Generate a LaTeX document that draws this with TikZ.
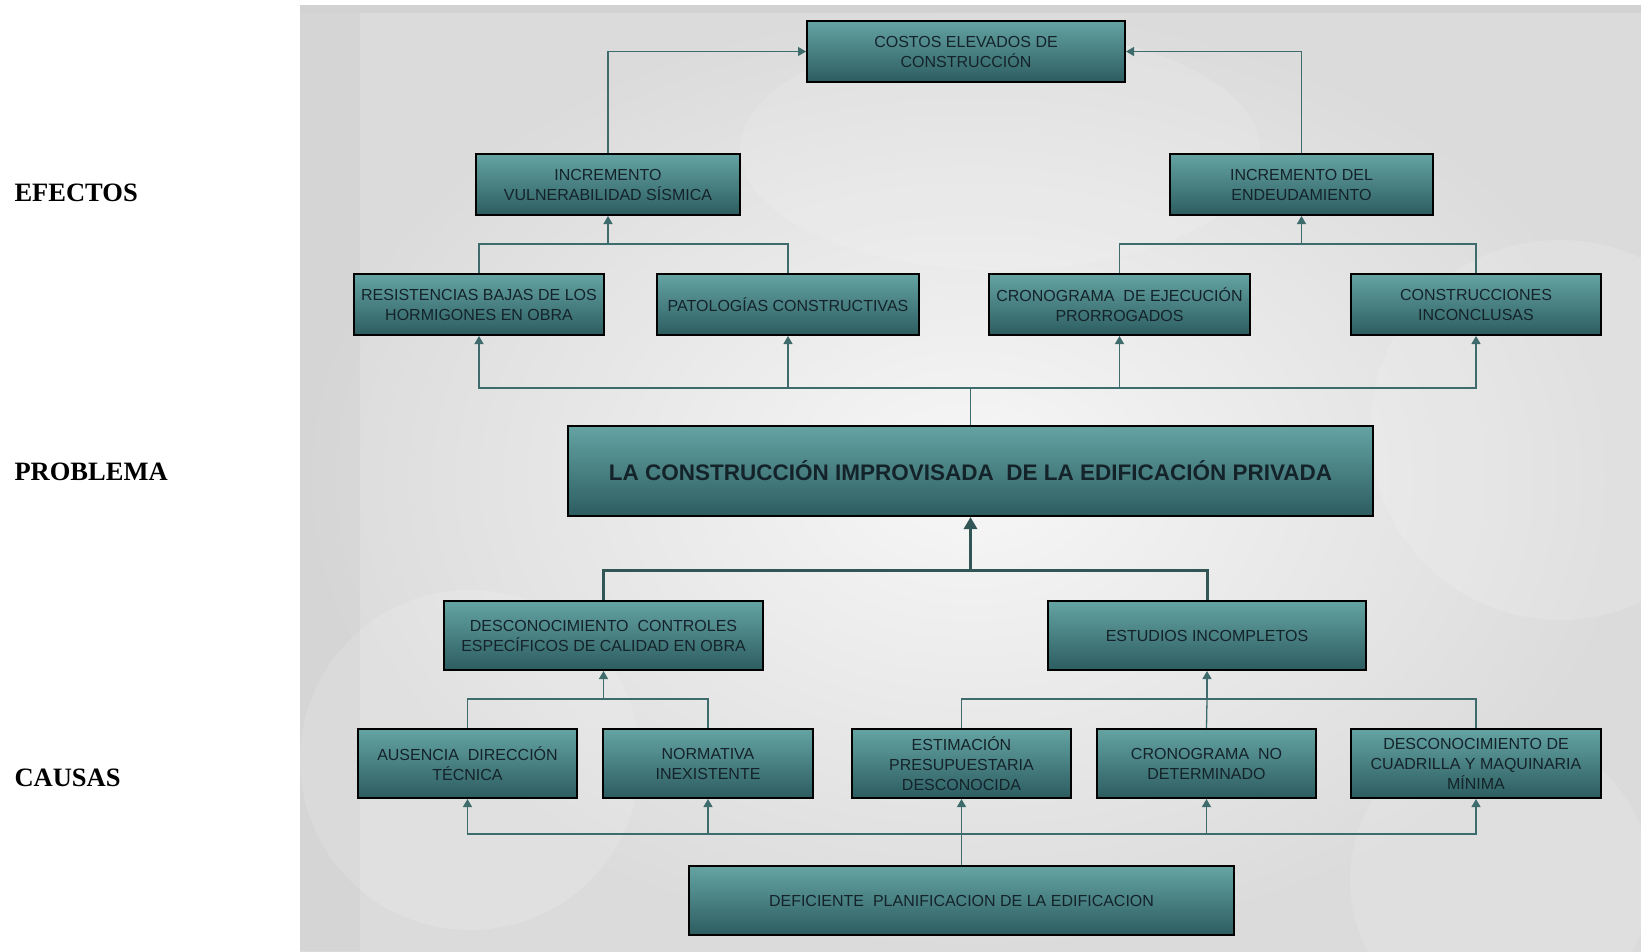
\documentclass[tikz,border=0pt]{standalone}
\usepackage{fontspec}
\setmainfont{Liberation Sans}
\newfontfamily\labelfont{Liberation Serif}
\usetikzlibrary{arrows.meta}

\definecolor{boxtop}{HTML}{65A3A3}
\definecolor{boxbot}{HTML}{2C5D60}
\definecolor{boxtext}{HTML}{14232A}
\definecolor{linkcol}{HTML}{3E6B6B}
\definecolor{panelout}{HTML}{DBDBDB}
\definecolor{panelin}{HTML}{F7F7F7}

\tikzset{
  box/.style={draw=black, line width=2pt, rectangle, inner sep=2pt,
    top color=boxtop, bottom color=boxbot, text=boxtext, align=center,
    minimum height=61pt,
    font=\fontsize{16}{20}\selectfont},
  mainbox/.style={box, minimum height=90pt,
    font=\bfseries\fontsize{22.5}{27}\selectfont},
  link/.style={draw=linkcol, line width=1.3pt},
  thicklink/.style={draw=linkcol!80!black, line width=3pt},
  tip/.style={-{Triangle[width=9pt,length=8pt]}},
  bigtip/.style={-{Triangle[width=13pt,length=12pt]}},
  rowlabel/.style={anchor=west, font=\labelfont\bfseries\fontsize{26.5}{30}\selectfont}
}

\begin{document}
\begin{tikzpicture}[x=1pt, y=-1pt]
  \useasboundingbox (0,0) rectangle (1641,951);

  % backdrop panel
  \shade[inner color=panelin, outer color=panelout] (300,5) rectangle (1641,951);
  \fill[black, opacity=0.04] (300,5) rectangle (1641,13);
  \begin{scope}
    \clip (300,5) rectangle (1641,951);
    \fill[white, opacity=0.14] (470,760) circle (170);
    \fill[white, opacity=0.14] (1560,430) circle (190);
    \fill[white, opacity=0.12] (1000,150) ellipse (260 and 120);
    \fill[white, opacity=0.12] (1500,880) circle (150);
    \fill[black, opacity=0.025] (300,13) rectangle (360,951);
  \end{scope}

  % row labels
  \node[rowlabel] (lefe) at (11,193) {EFECTOS};
  \node[rowlabel] (lpro) at (11,472) {PROBLEMA};
  \node[rowlabel] (lcau) at (11,778) {CAUSAS};

  % effects
  \node[box, minimum width=318pt] (costos) at (966,51.5) {COSTOS ELEVADOS DE\\CONSTRUCCIÓN};
  \node[box, minimum width=264pt] (vuln) at (608,184.5) {INCREMENTO\\VULNERABILIDAD SÍSMICA};
  \node[box, minimum width=263pt] (endeu) at (1301.5,184.5) {INCREMENTO DEL\\ENDEUDAMIENTO};
  \node[box, minimum width=250pt] (resist) at (479,304.5) {RESISTENCIAS BAJAS DE LOS\\HORMIGONES EN OBRA};
  \node[box, minimum width=262pt] (patol) at (788,304.5) {PATOLOGÍAS CONSTRUCTIVAS};
  \node[box, minimum width=261pt] (crono1) at (1119.5,304.5) {CRONOGRAMA \ DE EJECUCIÓN\\PRORROGADOS};
  \node[box, minimum width=250pt] (constr) at (1476,304.5) {CONSTRUCCIONES\\INCONCLUSAS};

  % problem
  \node[mainbox, minimum width=805pt] (problem) at (970.5,471) {LA CONSTRUCCIÓN IMPROVISADA \ DE LA EDIFICACIÓN PRIVADA};

  % causes
  \node[box, minimum width=319pt, minimum height=69pt] (desc) at (603.5,635.5) {DESCONOCIMIENTO \ CONTROLES\\ESPECÍFICOS DE CALIDAD EN OBRA};
  \node[box, minimum width=318pt, minimum height=69pt] (estud) at (1207,635.5) {ESTUDIOS INCOMPLETOS};
  \node[box, minimum width=219pt, minimum height=69pt] (ausen) at (467.5,763.5) {AUSENCIA \ DIRECCIÓN\\TÉCNICA};
  \node[box, minimum width=210pt, minimum height=69pt] (norma) at (708,763.5) {NORMATIVA\\INEXISTENTE};
  \node[box, minimum width=219pt, minimum height=69pt] (estim) at (961.5,763.5) {ESTIMACIÓN\\PRESUPUESTARIA\\DESCONOCIDA};
  \node[box, minimum width=219pt, minimum height=69pt] (crono2) at (1206.5,763.5) {CRONOGRAMA \ NO\\DETERMINADO};
  \node[box, minimum width=250pt, minimum height=69pt] (cuadr) at (1476,763.5) {DESCONOCIMIENTO DE\\CUADRILLA Y MAQUINARIA\\MÍNIMA};
  \node[box, minimum width=545pt, minimum height=69pt] (defic) at (961.5,900.5) {DEFICIENTE \ PLANIFICACION DE LA EDIFICACION};

  % junction points
  \coordinate (jv) at (608,244);
  \coordinate (je) at (1301.5,244);
  \coordinate (jp) at (970.5,388);
  \coordinate (jc) at (970.5,570);
  \coordinate (jd) at (603.5,699);
  \coordinate (js) at (1207,699);
  \coordinate (jb) at (961.5,834);

  % effects connectors
  \draw[link, tip] (vuln.north) |- (costos.west);
  \draw[link, tip] (endeu.north) |- (costos.east);
  \draw[link] (resist.north) |- (jv) -| (patol.north);
  \draw[link, tip] (jv) -- (vuln.south);
  \draw[link] (crono1.north) |- (je) -| (constr.north);
  \draw[link, tip] (je) -- (endeu.south);
  \draw[link] (problem.north) -- (jp);
  \draw[link, tip] (jp) -| (resist.south);
  \draw[link, tip] (jp) -| (patol.south);
  \draw[link, tip] (jp) -| (crono1.south);
  \draw[link, tip] (jp) -| (constr.south);

  % causes connectors
  \draw[thicklink] (desc.north) |- (jc) -| (estud.north);
  \draw[thicklink, bigtip] (jc) -- (problem.south);
  \draw[link] (ausen.north) |- (jd) -| (norma.north);
  \draw[link, tip] (jd) -- (desc.south);
  \draw[link] (estim.north) |- (js) -| (cuadr.north);
  \draw[link] (crono2.north) -- (js);
  \draw[link, tip] (js) -- (estud.south);
  \draw[link, tip] (defic.north) -- (estim.south);
  \draw[link, tip] (jb) -| (ausen.south);
  \draw[link, tip] (jb) -| (norma.south);
  \draw[link, tip] (jb) -| (crono2.south);
  \draw[link, tip] (jb) -| (cuadr.south);
\end{tikzpicture}
\end{document}
